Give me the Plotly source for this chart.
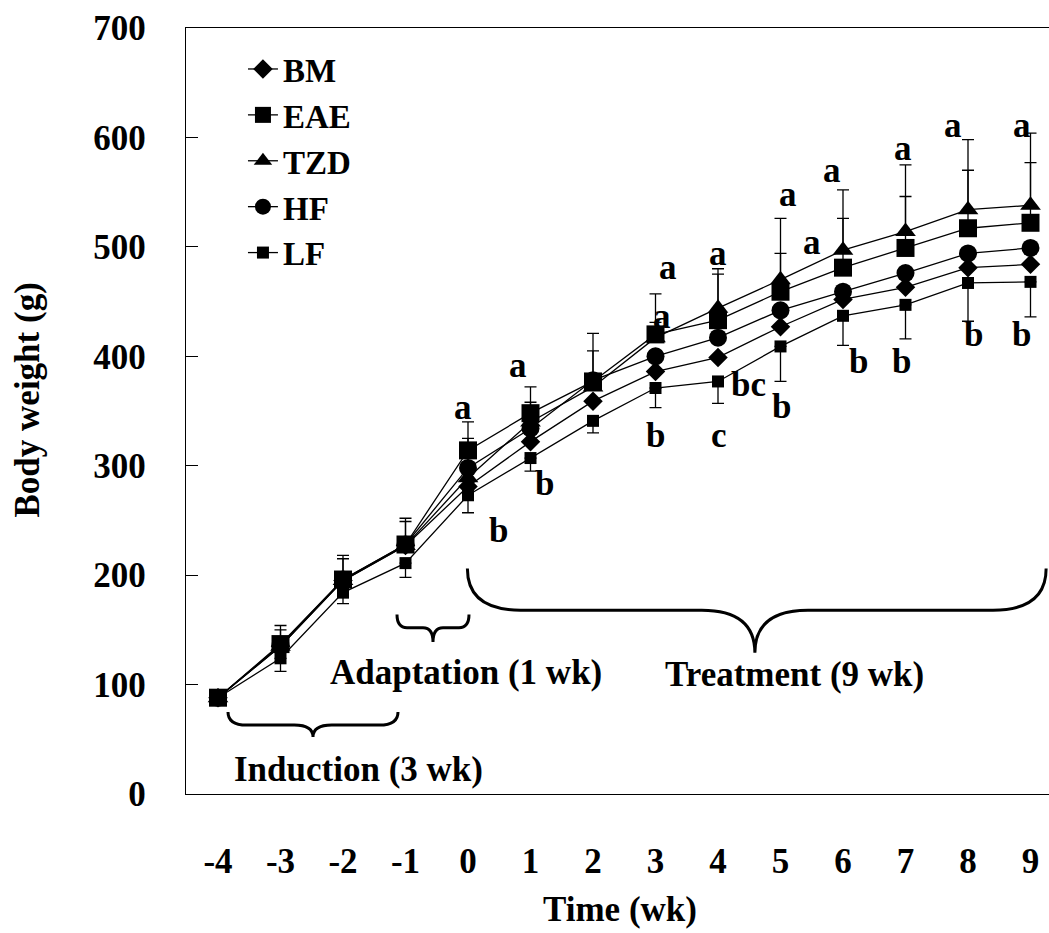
import plotly.graph_objects as go

weeks = [-4, -3, -2, -1, 0, 1, 2, 3, 4, 5, 6, 7, 8, 9]
bm  = [88, 135, 195, 227, 281, 322, 359, 386, 399, 427, 452, 463, 481, 484]
eae = [88, 137, 196, 228, 314, 348, 377, 420, 433, 459, 481, 499, 517, 522]
tzd = [88, 135, 195, 227, 289, 340, 372, 417, 444, 470, 497, 514, 534, 538]
hf  = [88, 136, 196, 228, 298, 334, 378, 400, 417, 442, 459, 476, 494, 499]
lf  = [88, 124, 184, 211, 273, 307, 341, 371, 377, 409, 437, 447, 467, 468]

eae_err_up = [0, 17, 22, 24, 26, 24, 44, 37, 42, 35, 45, 47, 53, 55]
tzd_err_up = [0, 15, 20, 22, 36, 18, 33, 14, 36, 56, 55, 61, 64, 66]
lf_err_dn  = [0, 12, 10, 13, 16, 12, 11, 18, 20, 32, 27, 31, 35, 32]

# significance letters: (x, y, text)
sig_labels = [
    (-0.08, 353, "a"), (0.48, 241, "b"),
    (0.80, 392, "a"), (1.22, 284, "b"),
    (3.20, 481, "a"), (3.10, 436, "a"), (3.00, 328, "b"),
    (4.00, 494, "a"), (4.02, 328, "c"), (4.48, 374, "bc"),
    (5.12, 548, "a"), (5.02, 354, "b"),
    (5.82, 570, "a"), (5.50, 504, "a"), (6.24, 395, "b"),
    (6.96, 590, "a"), (6.94, 395, "b"),
    (7.76, 611, "a"), (8.08, 420, "b"),
    (8.86, 611, "a"), (8.85, 420, "b"),
]

# phase braces: (x0, x1, xtip, ytop, ymid, ytip, radius) and labels
braces = [
    (-3.84, -1.12, -2.48, 75, 63, 52, 0.30),
    (-1.136, 0.016, -0.56, 164, 152, 139, 0.16),
    (-0.01, 9.25, 4.59, 206, 168, 129, 0.85),
]
phase_labels = [
    (-1.76, 22, "Induction (3 wk)"),
    (-0.03, 111, "Adaptation (1 wk)"),
    (5.23, 109, "Treatment (9 wk)"),
]

FONT = "Liberation Serif"
FS = 35

def f(size=FS):
    return dict(family=FONT, size=size, color="black", weight="bold")

fig = go.Figure()

def err(arr_up=None, arr_dn=None):
    n = len(weeks)
    return dict(type="data", symmetric=False,
                array=arr_up if arr_up else [0] * n,
                arrayminus=arr_dn if arr_dn else [0] * n,
                color="black", thickness=1.3, width=6)

line = dict(color="black", width=1.3)
fig.add_trace(go.Scatter(x=weeks, y=bm, name="BM", mode="lines+markers", line=line,
                         marker=dict(symbol="diamond", size=15, color="black")))
fig.add_trace(go.Scatter(x=weeks, y=eae, name="EAE", mode="lines+markers", line=line,
                         marker=dict(symbol="square", size=18, color="black"),
                         error_y=err(arr_up=eae_err_up)))
fig.add_trace(go.Scatter(x=weeks, y=tzd, name="TZD", mode="lines+markers", line=line,
                         marker=dict(symbol="triangle-up", size=18, color="black"),
                         error_y=err(arr_up=tzd_err_up)))
fig.add_trace(go.Scatter(x=weeks, y=hf, name="HF", mode="lines+markers", line=line,
                         marker=dict(symbol="circle", size=18, color="black")))
fig.add_trace(go.Scatter(x=weeks, y=lf, name="LF", mode="lines+markers", line=line,
                         marker=dict(symbol="square", size=12, color="black"),
                         error_y=err(arr_dn=lf_err_dn)))

shapes = []
for x0, x1, xc, yt, ym, yp, r in braces:
    path = (f"M {x0},{yt} Q {x0},{ym} {x0 + r},{ym} L {xc - r},{ym} "
            f"Q {xc},{ym} {xc},{yp} Q {xc},{ym} {xc + r},{ym} "
            f"L {x1 - r},{ym} Q {x1},{ym} {x1},{yt}")
    shapes.append(dict(type="path", path=path, xref="x", yref="y",
                       line=dict(color="black", width=3)))

annotations = []
for x, y, t in sig_labels:
    annotations.append(dict(x=x, y=y, text=t, showarrow=False, xref="x", yref="y",
                            xanchor="center", yanchor="middle", font=f()))
for x, y, t in phase_labels:
    annotations.append(dict(x=x, y=y, text=t, showarrow=False, xref="x", yref="y",
                            xanchor="center", yanchor="middle", font=f()))
annotations.append(dict(x=-0.184, y=0.514, xref="paper", yref="paper", text="Body weight (g)",
                        textangle=-90, showarrow=False, xanchor="center", yanchor="middle",
                        font=f()))
annotations.append(dict(x=0.503, y=-0.151, xref="paper", yref="paper", text="Time (wk)",
                        showarrow=False, xanchor="center", yanchor="middle", font=f()))

fig.update_layout(
    width=1049, height=933,
    margin=dict(l=186, r=0, t=28, b=139),
    paper_bgcolor="white", plot_bgcolor="white",
    font=f(),
    shapes=shapes, annotations=annotations,
    legend=dict(x=0.066, y=0.983, xanchor="left", yanchor="top",
                bgcolor="rgba(0,0,0,0)", font=f(33),
                itemwidth=30, tracegroupgap=0),
    xaxis=dict(range=[-4.512, 9.296], tickmode="array", tickvals=weeks,
               ticktext=[str(w) for w in weeks], showgrid=False, zeroline=False,
               showline=True, linecolor="black", linewidth=1.3, mirror=True,
               ticks="", ticklabelstandoff=36, tickfont=f()),
    yaxis=dict(range=[0, 700], dtick=100, showgrid=False, zeroline=False,
               showline=True, linecolor="black", linewidth=1.3,
               ticks="inside", ticklen=12, tickcolor="black", tickwidth=1.3,
               ticklabelstandoff=32, tickfont=f()),
)

fig.write_html("out.html")
